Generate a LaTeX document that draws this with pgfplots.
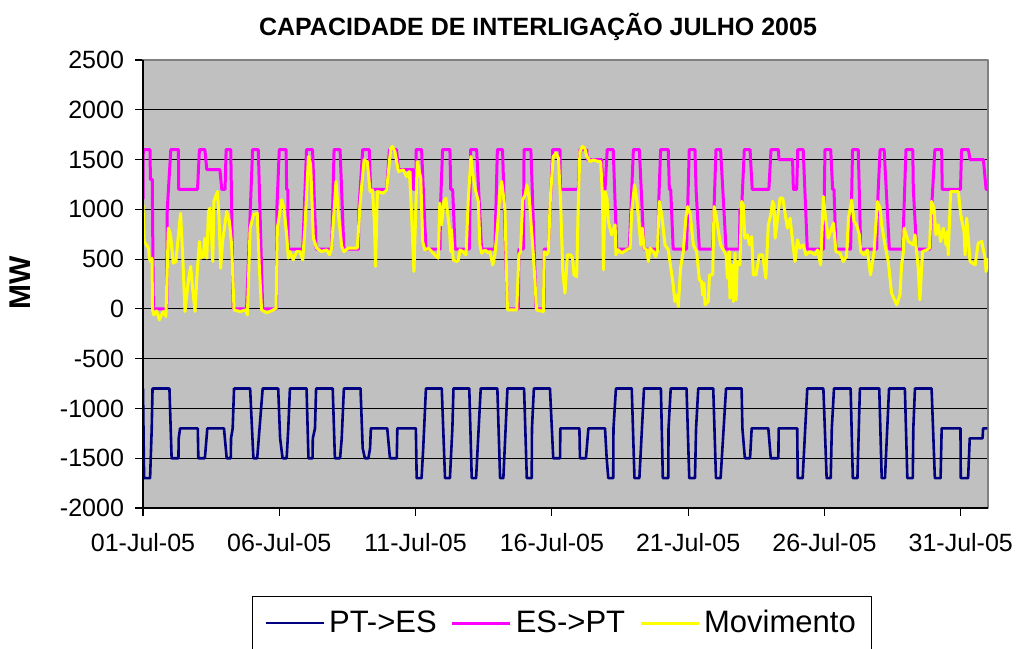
\documentclass[border=0pt]{standalone}
\usepackage{fontspec}
\setmainfont{Liberation Sans}
\usepackage{pgfplots}
\pgfplotsset{compat=1.18}
\definecolor{plotbg}{HTML}{C0C0C0}
\definecolor{navyc}{HTML}{000080}
\definecolor{magc}{HTML}{FF00FF}
\definecolor{yelc}{HTML}{FFFF00}
\definecolor{bordc}{HTML}{808080}
\begin{document}
\begin{tikzpicture}
\path[use as bounding box] (-71.5pt,-70pt) rectangle (438.5pt,254pt);
\begin{axis}[
  at={(0pt,0pt)}, anchor=south west,
  scale only axis, width=422.5pt, height=224pt,
  xmin=0, xmax=31, ymin=-2000, ymax=2500,
  xtick={0,5,10,15,20,25,30},
  xticklabels={01-Jul-05,06-Jul-05,11-Jul-05,16-Jul-05,21-Jul-05,26-Jul-05,31-Jul-05},
  ytick={-2000,-1500,-1000,-500,0,500,1000,1500,2000,2500},
  yticklabels={-2000,-1500,-1000,-500,0,500,1000,1500,2000,2500},
  ymajorgrids, major grid style={black, line width=0.6pt},
  axis background/.style={fill=plotbg},
  axis line style={draw=bordc, line width=0.8pt},
  tick pos=left, tick align=outside, major tick length=4pt,
  tick style={black, line width=0.6pt},
  ticklabel style={font=\fontsize{12.5}{15}\selectfont},
  yticklabel style={xshift=-2pt},
  xticklabel style={yshift=-5pt},
  line join=round,
  legend columns=3,
  legend style={at={(0.496,-0.196)}, anchor=north, draw=black, line width=0.6pt, fill=white,
    font=\fontsize{15.5}{18}\selectfont, inner xsep=6pt, inner ysep=5pt,
    /tikz/every even column/.append style={column sep=5pt}},
  legend image code/.code={\draw[#1] (0pt,0pt) -- (29pt,0pt);},
  after end axis/.code={
    \draw[black, line width=0.8pt] (rel axis cs:0,1) -- (rel axis cs:0,0) -- (rel axis cs:1,0);
  },
]
\addplot[navyc, line width=1.3pt] coordinates {
(0,-800) (0.04,-1700) (0.26,-1700) (0.32,-1200) (0.35,-800) (0.97,-800) (1.05,-1500) (1.30,-1500) (1.31,-1300) (1.36,-1200) (2.01,-1200) (2.03,-1500) (2.27,-1500) (2.36,-1200) (2.97,-1200) (3.07,-1500) (3.22,-1500) (3.23,-1300) (3.29,-1200) (3.34,-800) (3.93,-800) (4.05,-1500) (4.19,-1500) (4.39,-800) (4.96,-800) (5.03,-1300) (5.12,-1500) (5.27,-1500) (5.33,-1200) (5.39,-800) (6.00,-800) (6.07,-1500) (6.22,-1500) (6.23,-1300) (6.31,-1200) (6.35,-800) (6.96,-800) (7.04,-1500) (7.23,-1500) (7.29,-1300) (7.37,-800) (7.98,-800) (8.06,-1400) (8.14,-1500) (8.27,-1500) (8.33,-1400) (8.36,-1200) (8.96,-1200) (9.06,-1500) (9.31,-1500) (9.33,-1200) (10.01,-1200) (10.04,-1700) (10.22,-1700) (10.28,-1400) (10.38,-800)
(10.96,-800) (11.08,-1700) (11.26,-1700) (11.35,-1200) (11.39,-800) (11.97,-800) (12.06,-1700) (12.22,-1700) (12.39,-800) (13.00,-800) (13.10,-1700) (13.22,-1700) (13.37,-800) (13.98,-800) (14.08,-1700) (14.26,-1700) (14.27,-1200) (14.34,-800) (14.93,-800) (15.05,-1500) (15.30,-1500) (15.31,-1200) (16.01,-1200) (16.03,-1500) (16.25,-1500) (16.34,-1200) (16.95,-1200) (17.01,-1500) (17.07,-1700) (17.25,-1700) (17.26,-1200) (17.35,-800) (17.93,-800) (18.03,-1700) (18.21,-1700) (18.38,-800) (19.00,-800) (19.07,-1700) (19.27,-1700) (19.28,-1200) (19.36,-800) (19.94,-800) (20.04,-1700) (20.25,-1700) (20.29,-1200) (20.37,-800)
(20.92,-800) (21.02,-1700) (21.19,-1700) (21.39,-800) (21.96,-800) (21.99,-1200) (22.08,-1500) (22.27,-1500) (22.33,-1200) (22.94,-1200) (23.03,-1500) (23.31,-1500) (23.32,-1200) (24.00,-1200) (24.02,-1700) (24.20,-1700) (24.37,-800) (24.96,-800) (25.08,-1700) (25.23,-1700) (25.27,-1200) (25.35,-800) (25.96,-800) (26.04,-1700) (26.21,-1700) (26.30,-800) (27.01,-800) (27.10,-1700) (27.22,-1700) (27.37,-800) (27.95,-800) (28.04,-1700) (28.24,-1700) (28.26,-1200) (28.32,-800) (28.93,-800) (29.05,-1700) (29.26,-1700) (29.30,-1200) (29.99,-1200) (30.00,-1700) (30.27,-1700) (30.33,-1300) (30.80,-1300) (30.82,-1200) (30.98,-1200)
};
\addlegendentry{PT->ES}
\addplot[magc, line width=1.5pt] coordinates {
(0,1100) (0.01,1600) (0.26,1600) (0.27,1300) (0.34,1300) (0.38,0) (0.87,0) (0.89,1000) (1.02,1600) (1.30,1600) (1.31,1200) (2.00,1200) (2.07,1600) (2.27,1600) (2.34,1400) (2.82,1400) (2.89,1200) (3.01,1200) (3.05,1600) (3.22,1600) (3.31,0) (3.80,0) (4.02,1600) (4.23,1600) (4.39,0) (4.90,0) (4.91,1000) (5.00,1600) (5.25,1600) (5.27,1200) (5.31,1200) (5.33,600) (5.86,600) (6.00,1600) (6.22,1600) (6.35,600) (6.92,600) (7.01,1600) (7.23,1600) (7.37,600) (7.90,600) (7.92,1000) (8.06,1600) (8.30,1600) (8.35,1200) (8.94,1200) (9.04,1600) (9.30,1600) (9.37,1400) (9.92,1400) (9.93,1200) (10.01,1200) (10.02,1600) (10.22,1600) (10.38,600)
(10.90,600) (10.91,1000) (10.99,1600) (11.26,1600) (11.29,1200) (11.36,1200) (11.45,600) (11.97,600) (12.02,1600) (12.24,1600) (12.42,600) (12.91,600) (13.00,1600) (13.19,1600) (13.37,0) (13.77,0) (13.79,600) (13.95,600) (13.98,1600) (14.23,1600) (14.28,1200) (14.42,0) (14.71,0) (14.72,600) (14.87,600) (15.03,1600) (15.30,1600) (15.31,1200) (15.97,1200) (16.03,1600) (16.28,1600) (16.30,1500) (16.83,1500) (16.86,1200) (16.95,1200) (17.03,1600) (17.25,1600) (17.38,600) (17.84,600) (17.99,1600) (18.21,1600) (18.38,600) (18.90,600) (18.91,1000) (18.99,1600) (19.27,1600) (19.31,1200) (19.36,1200) (19.45,600) (19.94,600) (20.04,1600) (20.25,1600) (20.29,1200) (20.41,600)
(20.90,600) (21.02,1600) (21.19,1600) (21.39,600) (21.88,600) (21.90,1000) (21.96,1000) (22.06,1600) (22.27,1600) (22.35,1200) (22.96,1200) (23.04,1600) (23.31,1600) (23.33,1500) (23.83,1500) (23.86,1200) (23.98,1200) (24.02,1600) (24.22,1600) (24.37,600) (24.96,600) (25.02,1600) (25.23,1600) (25.30,1200) (25.35,1200) (25.42,600) (25.96,600) (26.03,1600) (26.24,1600) (26.33,600) (26.92,600) (26.94,1000) (27.04,1600) (27.19,1600) (27.38,600) (27.87,600) (27.99,1600) (28.24,1600) (28.26,1200) (28.38,600) (28.87,600) (28.93,1000) (29.05,1600) (29.30,1600) (29.32,1200) (29.99,1200) (30.03,1600) (30.28,1600) (30.34,1500) (30.83,1500) (30.93,1200) (30.98,1200)
};
\addlegendentry{ES->PT}
\addplot[yelc, line width=1.5pt] coordinates {
(0.00,1045) (0.04,677) (0.13,643) (0.20,610) (0.23,509) (0.28,476) (0.33,509) (0.35,-10) (0.40,-60) (0.50,-20) (0.60,-110) (0.68,-60) (0.75,-26) (0.84,-76) (0.93,811) (1.01,744) (1.11,459) (1.21,476) (1.30,744) (1.38,961) (1.46,509) (1.54,-26) (1.66,275) (1.75,426) (1.82,208) (1.91,-26) (1.99,376) (2.07,677) (2.12,509) (2.21,526) (2.27,710) (2.34,509) (2.40,978) (2.46,1012) (2.56,476) (2.60,1079) (2.73,1179) (2.79,911) (2.85,409) (2.92,677) (3.07,978) (3.17,878) (3.25,643) (3.34,-10) (3.56,-26) (3.78,-10) (3.83,-60) (3.93,811) (4.05,945) (4.19,961) (4.27,409) (4.35,-10) (4.54,-40) (4.78,-10) (4.88,7) (4.93,811) (5.09,1095) (5.17,1012) (5.27,744) (5.33,509) (5.39,576) (5.51,493) (5.64,576) (5.76,576) (5.86,493) (5.94,811) (6.07,1531) (6.15,1447) (6.25,710) (6.37,610) (6.55,576) (6.74,593) (6.84,543) (6.92,610) (7.08,1280) (7.17,945) (7.29,627) (7.37,576) (7.53,610) (7.86,610) (7.94,945) (7.96,1045) (8.11,1497) (8.23,1480) (8.33,1179) (8.42,1196) (8.49,861) (8.53,426) (8.60,1179) (8.82,1162) (8.94,1196) (9.09,1614) (9.15,1631) (9.24,1581) (9.37,1380) (9.55,1397) (9.67,1330) (9.77,1380) (9.82,1146) (9.94,376) (10.06,1480) (10.19,1313)
(10.26,677) (10.34,593) (10.47,610) (10.59,576) (10.71,543) (10.83,509) (10.89,1062) (10.95,844) (11.04,1079) (11.11,1112) (11.24,811) (11.29,576) (11.32,794) (11.38,493) (11.51,476) (11.57,493) (11.63,593) (11.73,576) (11.85,543) (11.93,1079) (12.03,1531) (12.09,1380) (12.18,1213) (12.30,1079) (12.36,643) (12.42,560) (12.55,593) (12.67,560) (12.73,576) (12.83,442) (12.91,543) (13.00,811) (13.10,1196) (13.16,1280) (13.28,995) (13.37,-10) (13.71,-10) (13.79,543) (13.85,576) (13.93,1095) (14.02,1146) (14.08,1246) (14.17,1112) (14.32,543) (14.44,-10) (14.69,-26) (14.72,576) (14.81,543) (14.87,576) (14.95,1146) (15.05,1531) (15.15,1564) (15.24,1514) (15.32,1079) (15.40,376) (15.48,158) (15.57,543) (15.69,543) (15.76,509) (15.81,342) (15.91,325) (15.97,1079) (16.03,1581) (16.12,1631) (16.21,1614) (16.28,1531) (16.40,1480) (16.52,1497) (16.70,1480) (16.79,1480) (16.86,1112) (16.89,392) (16.95,1179) (17.02,1112) (17.07,878) (17.19,744) (17.32,844) (17.35,543) (17.44,593) (17.56,560) (17.74,593) (17.87,610) (17.93,978) (18.03,1246) (18.11,1112) (18.21,811) (18.26,643) (18.32,811) (18.38,610) (18.48,593) (18.54,476) (18.60,610) (18.72,576) (18.81,526) (18.87,576) (18.94,1079) (19.03,945) (19.15,643) (19.27,593) (19.45,242) (19.51,74) (19.58,141) (19.64,24) (19.72,409) (19.82,576) (19.92,928) (19.98,1028) (20.07,961) (20.19,643) (20.31,576) (20.41,292)
(20.49,275) (20.53,141) (20.58,258) (20.62,41) (20.74,74) (20.78,342) (20.90,342) (20.95,1028) (21.02,945) (21.11,777) (21.19,643) (21.29,593) (21.39,543) (21.44,309) (21.51,576) (21.53,108) (21.59,442) (21.66,74) (21.72,560) (21.76,91) (21.80,476) (21.90,442) (21.96,1079) (22.02,1045) (22.08,710) (22.17,744) (22.25,643) (22.33,727) (22.39,342) (22.49,342) (22.61,543) (22.73,543) (22.85,309) (22.94,844) (23.03,945) (23.10,1079) (23.15,1045) (23.19,710) (23.37,1112) (23.47,1112) (23.64,811) (23.74,911) (23.83,677) (23.92,476) (24.01,694) (24.10,610) (24.22,643) (24.32,543) (24.47,576) (24.65,543) (24.74,593) (24.86,442) (24.96,1129) (25.04,911) (25.14,710) (25.33,861) (25.42,576) (25.57,560) (25.69,476) (25.81,526) (25.88,911) (26.00,1095) (26.08,878) (26.18,844) (26.28,744) (26.33,576) (26.45,543) (26.57,593) (26.69,342) (26.82,576) (26.94,1079) (27.04,1012) (27.10,844) (27.22,643) (27.34,476) (27.46,158) (27.65,41) (27.77,141) (27.83,442) (27.89,560) (27.92,811) (28.08,677) (28.26,643) (28.32,744) (28.44,409) (28.50,91) (28.60,576) (28.75,593) (28.85,610) (28.93,1079) (29.02,1012) (29.09,744) (29.18,844) (29.26,677) (29.36,811) (29.46,643) (29.51,777) (29.54,543) (29.63,1179) (29.91,1179) (30.00,945) (30.12,777) (30.16,543) (30.22,911) (30.34,476) (30.53,442) (30.64,660) (30.77,677) (30.89,509) (30.93,375) (30.98,509)
};
\addlegendentry{Movimento}
\end{axis}
\node[font=\bfseries\fontsize{12.5}{15}\selectfont] at (197.5pt,240.5pt) {CAPACIDADE DE INTERLIGAÇÃO JULHO 2005};
\node[font=\bfseries\fontsize{15}{18}\selectfont, rotate=90] at (-61.5pt,112.5pt) {MW};
\end{tikzpicture}
\end{document}
